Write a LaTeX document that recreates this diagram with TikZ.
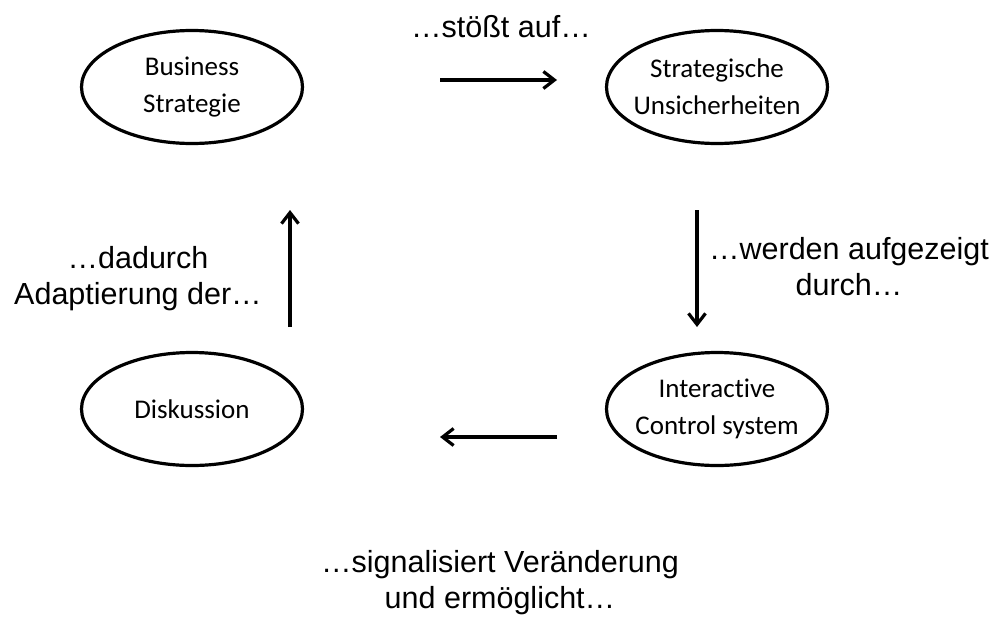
\documentclass[tikz,border=0pt]{standalone}
\usepackage{fontspec}
\setmainfont{Liberation Sans}
\newfontfamily\calibri{Carlito}[Ligatures=NoCommon]
\usetikzlibrary{arrows.meta,shapes.geometric}

\begin{document}
\begin{tikzpicture}[x=1pt,y=-1pt,
  stage/.style={draw, line width=3.2pt, ellipse, minimum width=221pt, minimum height=113pt,
    inner xsep=-20pt, inner ysep=0pt, align=center, font=\calibri\fontsize{27}{37}\selectfont},
  flow/.style={line width=3.2pt, -{Straight Barb[length=11pt,width=17pt,line width=3.2pt]}},
  caption/.style={align=center, inner sep=0pt, font=\fontsize{30.5}{36}\selectfont}]
\useasboundingbox (0,0) rectangle (1003,616);

% four stages of the cycle
\node[stage] (bs) at (192,87)  {Business\\Strategie};
\node[stage] (su) at (717,87)  {Strategische\\Unsicherheiten};
\node[stage] (ic) at (717,409) {Interactive\\Control system};
\node[stage] (di) at (192,409) {Diskussion};

% arrow end points between the stages
\coordinate (a1s) at (440,80);  \coordinate (a1e) at (557,80);
\coordinate (a2s) at (697,210); \coordinate (a2e) at (697,327);
\coordinate (a3s) at (557,437); \coordinate (a3e) at (440,437);
\coordinate (a4s) at (290,327); \coordinate (a4e) at (290,210);

\draw[flow] (a1s) -- (a1e);
\draw[flow] (a2s) -- (a2e);
\draw[flow] (a3s) -- (a3e);
\draw[flow] (a4s) -- (a4e);

% transition captions
\node[caption] (t1) at (501,27)  {…stößt auf…};
\node[caption] (t2) at (849,267) {…werden aufgezeigt\\durch…};
\node[caption] (t3) at (500,583) {…signalisiert Veränderung\\und ermöglicht…};
\node[caption] (t4) at (138,279) {…dadurch\\Adaptierung der…};
\end{tikzpicture}
\end{document}
